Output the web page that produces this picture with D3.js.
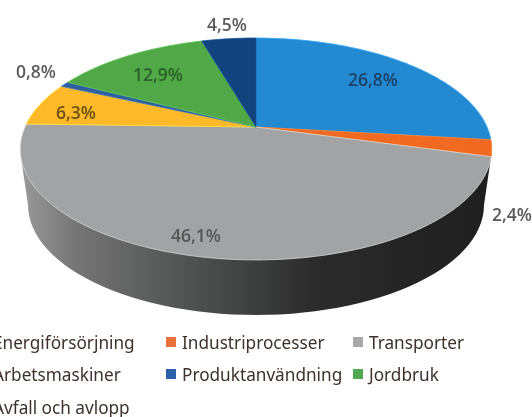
<!DOCTYPE html>
<html><head><meta charset="utf-8">
<script src="https://cdnjs.cloudflare.com/ajax/libs/d3/7.8.5/d3.min.js"></script>
<style>html,body{margin:0;padding:0;background:#fff;overflow:hidden}svg{display:block}</style>
</head><body><div id="c"></div>
<script>
const categories = ["Energiförsörjning","Industriprocesser","Transporter","Arbetsmaskiner","Produktanvändning","Jordbruk","Avfall och avlopp"];
const values = [26.8,2.4,46.1,6.3,0.8,12.9,4.5];
const valueLabels = ["26,8%","2,4%","46,1%","6,3%","0,8%","12,9%","4,5%"];
const sliceColors = ["#2389d0","#f26a21","#a1a3a5","#fdb927","#2e5f9e","#50a847","#11437f"];
const legendColors = ["#2f86c8","#e8703a","#a8a8a8","#f5b82e","#2b5fa8","#52a852","#1c3f78"];
const labelColors = ["#1c4468","#595959","#565656","#6b5212","#5c5c5c","#2c5f2a","#5c5c5c"];
const labelPlacement = [[373,79],[512,214],[196,235],[76,112],[36,71],[158,74],[227,24]];
const legendRows = [342,374,407];
const legendCols = [-23,166,353];

const W=532,H=417;
const svg=d3.select("#c").append("svg").attr("width",W).attr("height",H).style("filter","blur(0.45px)");
const defs=svg.append("defs");
const grad=defs.append("linearGradient").attr("id","wall").attr("gradientUnits","userSpaceOnUse")
  .attr("x1",20).attr("x2",492).attr("y1",0).attr("y2",0);
[[0,"#9a9a9a"],[0.12,"#757575"],[0.3,"#585a59"],[0.48,"#404241"],[0.62,"#2a2b2a"],[1,"#1f1f1f"]]
 .forEach(([o,c])=>grad.append("stop").attr("offset",o).attr("stop-color",c));

// perspective projection of the unit disc onto the tilted pie's top face
const cx=256,cy=127,a=231,b=106.6,k=0.198;
const project=(r,ang)=>{const u=r*Math.sin(ang),v=-r*Math.cos(ang),d=1-k*v;return [cx+a*u/d,cy+b*v/d];};
const line=d3.line();
const pie=d3.pie().sort(null).value(d=>d)(values);

// side wall
const wcx=256,wcy=205,wrx=228,wry=110;
const bottom=d3.range(0,181,3).map(t=>{const r=t*Math.PI/180;return [wcx-wrx*Math.cos(r),wcy+wry*Math.sin(r)];});
const wall=[project(1,Math.PI*1.42)].concat(bottom,[project(1,Math.PI*0.58)]);
svg.append("path").attr("d",line(wall)+"Z").attr("fill","url(#wall)");

// top face
const g=svg.append("g");
g.selectAll("path").data(pie).join("path")
 .attr("d",s=>{
   const n=Math.max(4,Math.ceil((s.endAngle-s.startAngle)*60));
   const pts=d3.range(n+1).map(i=>project(1,s.startAngle+(s.endAngle-s.startAngle)*i/n));
   return line([project(0,0),...pts])+"Z";
 })
 .attr("fill",(s,i)=>sliceColors[i])
 .attr("stroke",(s,i)=>i===2?"#d9d9d6":d3.color(sliceColors[i]).brighter(0.5))
 .attr("stroke-width",0.8).attr("stroke-linejoin","round");

// value labels
svg.append("g").selectAll("text").data(valueLabels).join("text")
 .attr("x",(d,i)=>labelPlacement[i][0]).attr("y",(d,i)=>labelPlacement[i][1])
 .attr("text-anchor","middle").attr("dominant-baseline","central")
 .attr("font-family","'Open Sans',sans-serif").attr("font-size",17.5).attr("font-weight",600)
 .attr("fill",(d,i)=>labelColors[i]).text(d=>d);

// legend
const leg=svg.append("g").selectAll("g").data(categories).join("g")
 .attr("transform",(d,i)=>`translate(${legendCols[i%3]},${legendRows[Math.floor(i/3)]})`);
leg.append("rect").attr("x",0).attr("y",-5).attr("width",10).attr("height",10).attr("fill",(d,i)=>legendColors[i]);
leg.append("text").attr("x",16).attr("y",0).attr("dominant-baseline","central")
 .attr("font-family","'Noto Sans',sans-serif").attr("font-size",17.2).attr("fill","#3d3129").text(d=>d);
</script></body></html>
